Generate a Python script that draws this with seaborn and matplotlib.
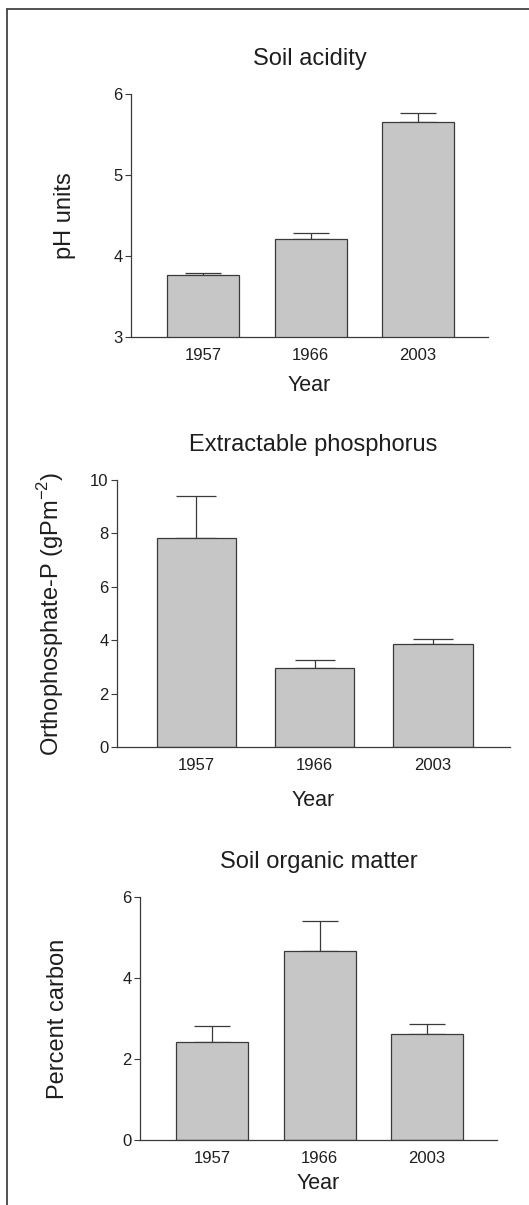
import numpy as np
import matplotlib
matplotlib.use('Agg')
import matplotlib.pyplot as plt
import pandas as pd
import seaborn as sns
from matplotlib.lines import Line2D

sns.set_style('white')
plt.rcParams['font.family'] = ['Liberation Sans', 'DejaVu Sans']

# data
years = ['1957', '1966', '2003']

ph_mean = [3.76, 4.21, 5.65]
ph_err = [0.03, 0.07, 0.11]

phos_mean = [7.84, 2.96, 3.84]
phos_err = [1.56, 0.29, 0.22]

carbon_mean = [2.41, 4.67, 2.63]
carbon_err = [0.40, 0.74, 0.23]

titles = ['Soil acidity', 'Extractable phosphorus', 'Soil organic matter']
ylabels = ['pH units', r'Orthophosphate-P (gPm$^{\mathregular{-2}}$)', 'Percent carbon']
ylims = [(3, 6), (0, 10), (0, 6)]
yticks = [[3, 4, 5, 6], [0, 2, 4, 6, 8, 10], [0, 2, 4, 6]]

# layout (figure fractions) and label offsets (axes fractions)
positions = [[0.2476, 0.7203, 0.6749, 0.2017],
             [0.2212, 0.3801, 0.7429, 0.2216],
             [0.2647, 0.0539, 0.6749, 0.2017]]
ylab_x = [-0.185, -0.170, -0.230]
xlab_y = [-0.198, -0.199, -0.177]
caps = [13, 14.5, 13]

bar_color = '#c6c6c6'
line_color = '#3a3a3a'
text_color = '#1e1e1e'

fig = plt.figure(figsize=(5.29, 12.05), dpi=100)

series = [(ph_mean, ph_err), (phos_mean, phos_err), (carbon_mean, carbon_err)]

for i, (means, errs) in enumerate(series):
    ax = fig.add_axes(positions[i])
    df = pd.DataFrame({'Year': years, 'value': means})

    sns.barplot(data=df, x='Year', y='value', ax=ax, color=bar_color,
                saturation=1, width=0.67, edgecolor=line_color, linewidth=0.9,
                errorbar=None, zorder=2)

    # one-sided (upper) error bars at the bar centres
    xs = [p.get_x() + p.get_width() / 2 for p in ax.patches]
    ax.errorbar(xs, means, yerr=[np.zeros(len(errs)), errs], fmt='none',
                ecolor=line_color, elinewidth=0.9, capsize=caps[i],
                capthick=0.9, zorder=1)

    ax.set_xlim(-0.67, 2.65)
    ax.set_ylim(*ylims[i])
    ax.set_yticks(yticks[i])

    ax.set_title(titles[i], fontsize=17, pad=21, color=text_color)
    ax.set_ylabel(ylabels[i], fontsize=17, color=text_color, va='center')
    ax.yaxis.set_label_coords(ylab_x[i], 0.5)
    ax.set_xlabel('Year', fontsize=15.5, color=text_color, va='center')
    ax.xaxis.set_label_coords(0.5, xlab_y[i])

    ax.tick_params(axis='y', length=4, width=0.8, color=line_color,
                   labelsize=12, labelcolor=text_color, pad=2, left=True)
    ax.tick_params(axis='x', length=0, labelsize=12, labelcolor=text_color, pad=8)

    for side in ['top', 'right']:
        ax.spines[side].set_visible(False)
    for side in ['left', 'bottom']:
        ax.spines[side].set_color(line_color)
        ax.spines[side].set_linewidth(0.9)
    ax.grid(False)

# frame lines on the left and top edges of the page
fig.add_artist(Line2D([7 / 529, 7 / 529], [0, 1 - 9 / 1205], transform=fig.transFigure,
                      color='#444444', linewidth=1.3))
fig.add_artist(Line2D([7 / 529, 1], [1 - 9 / 1205, 1 - 9 / 1205], transform=fig.transFigure,
                      color='#444444', linewidth=1.3))

plt.savefig('out.png', dpi=100)
plt.close()
